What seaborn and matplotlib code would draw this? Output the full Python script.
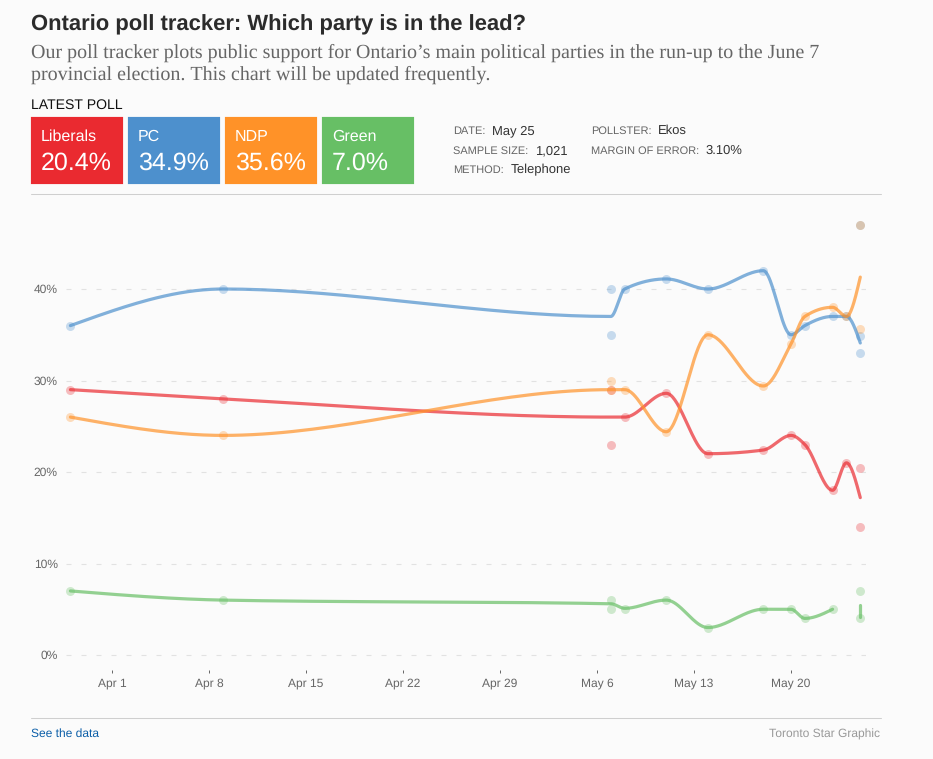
import numpy as np
import pandas as pd
import matplotlib
matplotlib.use("Agg")
import matplotlib.pyplot as plt
import matplotlib.dates as mdates
from matplotlib.patches import FancyBboxPatch
from matplotlib.lines import Line2D
import seaborn as sns

W, H = 933, 759
BG = "#fbfbfb"

parties = ["Liberals", "PC", "NDP", "Green"]
party_colors = ["#ea2a30", "#4d90cd", "#ff9228", "#67bf65"]
latest_values = ["20.4%", "34.9%", "35.6%", "7.0%"]

# one entry per poll
poll_dates = ["2018-03-29", "2018-04-09", "2018-05-07", "2018-05-07", "2018-05-08",
              "2018-05-11", "2018-05-14", "2018-05-18", "2018-05-20", "2018-05-21",
              "2018-05-23", "2018-05-24", "2018-05-25", "2018-05-25", "2018-05-25"]
poll_liberals = [29, 28, 29, 23, 26, 28.6, 22, 22.4, 24, 23, 18, 21, 20.4, 14, np.nan]
poll_pc = [36, 40, 40, 35, 40, 41.1, 40, 42, 35, 36, 37, 37, 34.9, 33, 47]
poll_ndp = [26, 24, 30, 29, 29, 24.4, 35, 29.4, 34, 37, 38, 37, 35.6, 47, np.nan]
poll_green = [7, 6, 6, 5, 5, 6, 3, 5, 5, 4, 5, np.nan, 7, 4, np.nan]

# trend lines
trend_dates = ["2018-03-29", "2018-04-09", "2018-05-07", "2018-05-08", "2018-05-11", "2018-05-14",
               "2018-05-18", "2018-05-20", "2018-05-21", "2018-05-23", "2018-05-24", "2018-05-25"]
trend_liberals = [29, 28, 26, 26, 28.6, 22, 22.4, 24, 23, 18, 21, 17.2]
trend_pc = [36, 40, 37, 40, 41.1, 40, 42, 35, 36, 37, 37, 34.1]
trend_ndp = [26, 24, 29, 29, 24.4, 35, 29.4, 34, 37, 38, 37, 41.3]
trend_green = [7, 6, 5.6, 5.1, 6, 3, 5, 5, 4, 5]
green_stub_dates = ["2018-05-25", "2018-05-25"]
green_stub = [5.5, 4.2]

tick_dates = ["2018-04-01", "2018-04-08", "2018-04-15", "2018-04-22",
              "2018-04-29", "2018-05-06", "2018-05-13", "2018-05-20"]
tick_labels = ["Apr 1", "Apr 8", "Apr 15", "Apr 22", "Apr 29", "May 6", "May 13", "May 20"]
y_ticks = [0, 10, 20, 30, 40]
y_labels = ["0%", "10%", "20%", "30%", "40%"]


def to_num(dates):
    return mdates.date2num(pd.to_datetime(dates))


def monotone_curve(x, y, per_seg=40):
    # same curve as d3 curveMonotoneX
    x = np.asarray(x, float)
    y = np.asarray(y, float)
    h = np.diff(x)
    s = np.diff(y) / h
    t = np.zeros(len(x))
    for i in range(1, len(x) - 1):
        p = (s[i - 1] * h[i] + s[i] * h[i - 1]) / (h[i - 1] + h[i])
        t[i] = (np.sign(s[i - 1]) + np.sign(s[i])) * min(abs(s[i - 1]), abs(s[i]), 0.5 * abs(p))
    t[0] = (3 * s[0] - t[1]) / 2
    t[-1] = (3 * s[-1] - t[-2]) / 2
    xs, ys = [], []
    for i in range(len(x) - 1):
        u = np.linspace(0, 1, per_seg)
        a = 2 * u**3 - 3 * u**2 + 1
        b = u**3 - 2 * u**2 + u
        c = -2 * u**3 + 3 * u**2
        d = u**3 - u**2
        xs.extend(x[i] + u * h[i])
        ys.extend(a * y[i] + b * h[i] * t[i] + c * y[i + 1] + d * h[i] * t[i + 1])
    return np.array(xs), np.array(ys)


def px_x(v):
    return v / W


def px_y(v):
    return 1 - v / H


def label(x, y, s, size, color, weight="normal", family="Liberation Sans", ha="left", va="center"):
    # sizes are given in pixels of the reference
    return fig.text(px_x(x), px_y(y), s, fontsize=size * 0.72, color=color, fontweight=weight,
                    family=family, ha=ha, va=va)


def rule(y):
    fig.add_artist(Line2D([px_x(31), px_x(881)], [px_y(y), px_y(y)], color="#cfcfcf", lw=0.75))


sns.set_theme(style="white")
plt.rcParams["font.family"] = ["Liberation Sans", "DejaVu Sans"]
plt.rcParams["text.hinting"] = "none"
plt.rcParams["text.hinting_factor"] = 1

fig = plt.figure(figsize=(W / 100, H / 100), dpi=100, facecolor=BG)

# header
label(31, 30, "Ontario poll tracker: Which party is in the lead?", 21.9, "#2b2b2b", weight="bold", va="baseline")
label(31, 57.5, "Our poll tracker plots public support for Ontario\u2019s main political parties in the run-up to the June 7",
      19.8, "#666666", family="Liberation Serif", va="baseline")
label(31, 79.5, "provincial election. This chart will be updated frequently.",
      19.6, "#666666", family="Liberation Serif", va="baseline")
label(31, 105.5, "LATEST POLL", 14, "#111111")

box_left = [31, 128, 225, 322]
for left, name, value, color in zip(box_left, parties, latest_values, party_colors):
    fig.add_artist(FancyBboxPatch((px_x(left + 2), px_y(182)), 88 / W, 63 / H,
                                  boxstyle="round,pad=0", transform=fig.transFigure, facecolor=color,
                                  edgecolor=color, lw=3))
    label(left + 10, 137, name, 16, "white")
    label(left + 10, 163, value, 25.2, "white")

meta = [(453, 131, "DATE:", 492, "May 25"),
        (453, 151, "SAMPLE SIZE:", 535, "1,021"),
        (453, 170.5, "METHOD:", 511, "Telephone"),
        (591, 131, "POLLSTER:", 658, "Ekos"),
        (591, 151, "MARGIN OF ERROR:", 706, "3.10%")]
for x, y, name, val_x, val in meta:
    label(x, y, name, 11, "#666666")
    label(val_x, y - 0.5, val, 12.7, "#333333")

rule(194)
rule(718)
label(31, 734, "See the data", 12, "#0b5ea8")
label(880, 734, "Toronto Star Graphic", 12, "#999999", ha="right")

# chart, placed so that 0% sits at y=655 and 40% at y=289
ax = fig.add_axes([px_x(66), px_y(670), 800 / W, 470 / H], facecolor="none")

polls = pd.DataFrame({"date": to_num(poll_dates), "Liberals": poll_liberals, "PC": poll_pc,
                      "NDP": poll_ndp, "Green": poll_green})
trends = [(to_num(trend_dates), trend_liberals), (to_num(trend_dates), trend_pc),
          (to_num(trend_dates), trend_ndp), (to_num(trend_dates[:len(trend_green)]), trend_green)]

for name, color in zip(parties, party_colors):
    sns.scatterplot(data=polls, x="date", y=name, color=color, s=42, alpha=0.3, linewidth=0, ax=ax, zorder=3)

for (x, y), color in zip(trends, party_colors):
    cx, cy = monotone_curve(x, y)
    sns.lineplot(x=cx, y=cy, color=color, lw=2.3, alpha=0.7, sort=False, estimator=None, ax=ax, zorder=4)
sns.lineplot(x=to_num(green_stub_dates), y=green_stub, color=party_colors[3], lw=2.3, alpha=0.7,
             sort=False, estimator=None, ax=ax, zorder=4)

day = 97 / 7
apr1 = to_num(["2018-04-01"])[0]
ax.set_xlim(apr1 + (66 - 112) / day, apr1 + (866 - 112) / day)
per_pct = 366 / 40
ax.set_ylim((655 - 670) / per_pct, (655 - 200) / per_pct)

ax.set_xticks(to_num(tick_dates), tick_labels)
ax.set_yticks(y_ticks, y_labels)
ax.set_xlabel("")
ax.set_ylabel("")
ax.tick_params(axis="x", length=2.2, width=0.7, color="#666666", pad=3.5, labelsize=8.64, labelcolor="#666666", bottom=True)
ax.tick_params(axis="y", length=0, pad=6, labelsize=8.64, labelcolor="#666666")
ax.grid(axis="y", color="#e2e2e2", lw=0.8, linestyle=(0, (4.5, 9)), zorder=0)
ax.set_axisbelow(True)
sns.despine(ax=ax, left=True, bottom=True)

fig.savefig("out.png", dpi=100, facecolor=BG)
